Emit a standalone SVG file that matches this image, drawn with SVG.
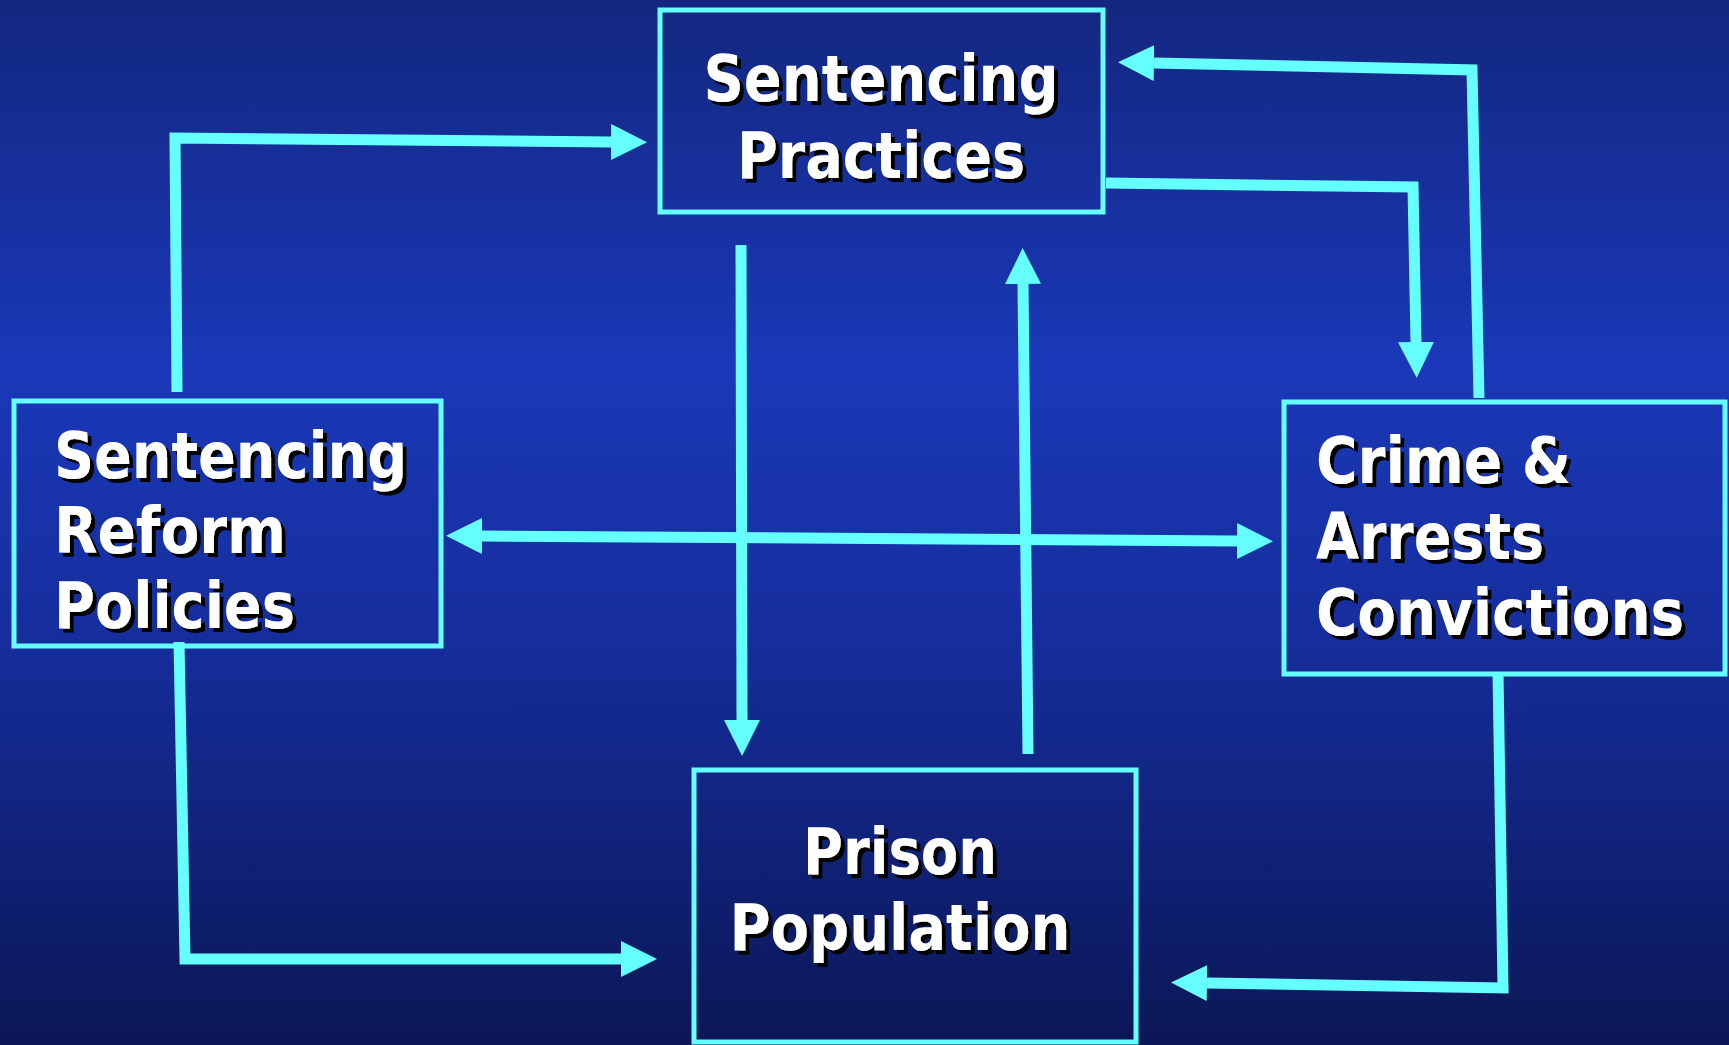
<svg xmlns="http://www.w3.org/2000/svg" width="1729" height="1045" viewBox="0 0 1729 1045">
<defs>
<linearGradient id="bg" x1="0" y1="0" x2="0" y2="1">
<stop offset="0" stop-color="#13277f"/>
<stop offset="0.35" stop-color="#1a38b8"/>
<stop offset="0.6" stop-color="#162e9e"/>
<stop offset="1" stop-color="#0b1756"/>
</linearGradient>
<filter id="ds" x="-10%" y="-20%" width="120%" height="140%">
<feFlood flood-color="#000000"/>
<feComposite in2="SourceAlpha" operator="in"/>
<feOffset dx="4" dy="4" result="s"/>
<feMerge><feMergeNode in="s"/><feMergeNode in="SourceGraphic"/></feMerge>
</filter>
<marker id="ah" markerUnits="userSpaceOnUse" markerWidth="36" markerHeight="36" refX="0" refY="18" orient="auto-start-reverse" viewBox="0 0 36 36">
<path d="M0,0 L36,18 L0,36 Z" fill="#66ffff"/>
</marker>
<style>
.box{fill:none;stroke:#66ffff;stroke-width:5}
.lbl{font-family:"DejaVu Sans","Liberation Sans",sans-serif;font-weight:bold;font-size:64px;font-stretch:condensed;fill:#ffffff;filter:url(#ds)}
.con{fill:none;stroke:#66ffff;stroke-width:11;stroke-linejoin:miter;stroke-linecap:butt}
</style>
</defs>
<rect x="0" y="0" width="1729" height="1045" fill="url(#bg)"/>

<g id="connectors">
<path class="con" d="M177,392 L175,138 L611,142" marker-end="url(#ah)"/>
<path class="con" d="M741,245 L742,720" marker-end="url(#ah)"/>
<path class="con" d="M1028,754 L1023,284" marker-end="url(#ah)"/>
<path class="con" d="M482,536 L1237,541" marker-start="url(#ah)" marker-end="url(#ah)"/>
<path class="con" d="M1106,183 L1413,187 L1416,342" marker-end="url(#ah)"/>
<path class="con" d="M1479,398 L1472,70 L1154,63" marker-end="url(#ah)"/>
<path class="con" d="M179,642 L185,959 L621,959" marker-end="url(#ah)"/>
<path class="con" d="M1498,672 L1503,988 L1207,983" marker-end="url(#ah)"/>
</g>

<g id="sentencing-practices">
<rect class="box" x="660" y="10" width="443" height="202"/>
<g class="lbl" text-anchor="middle">
<text x="881" y="101" textLength="355" lengthAdjust="spacingAndGlyphs">Sentencing</text>
<text x="881" y="178" textLength="288" lengthAdjust="spacingAndGlyphs">Practices</text>
</g>
</g>

<g id="sentencing-reform-policies">
<rect class="box" x="14" y="401" width="427" height="245"/>
<g class="lbl">
<text x="54" y="478" textLength="353" lengthAdjust="spacingAndGlyphs">Sentencing</text>
<text x="54" y="553" textLength="232" lengthAdjust="spacingAndGlyphs">Reform</text>
<text x="54" y="628" textLength="241" lengthAdjust="spacingAndGlyphs">Policies</text>
</g>
</g>

<g id="crime-arrests-convictions">
<rect class="box" x="1284" y="402" width="441" height="272"/>
<g class="lbl">
<text x="1316" y="483" textLength="255" lengthAdjust="spacingAndGlyphs">Crime &amp;</text>
<text x="1316" y="559" textLength="228" lengthAdjust="spacingAndGlyphs">Arrests</text>
<text x="1316" y="635" textLength="368" lengthAdjust="spacingAndGlyphs">Convictions</text>
</g>
</g>

<g id="prison-population">
<rect class="box" x="694" y="770" width="442" height="272"/>
<g class="lbl" text-anchor="middle">
<text x="900" y="874" textLength="194" lengthAdjust="spacingAndGlyphs">Prison</text>
<text x="900" y="950" textLength="341" lengthAdjust="spacingAndGlyphs">Population</text>
</g>
</g>
</svg>
